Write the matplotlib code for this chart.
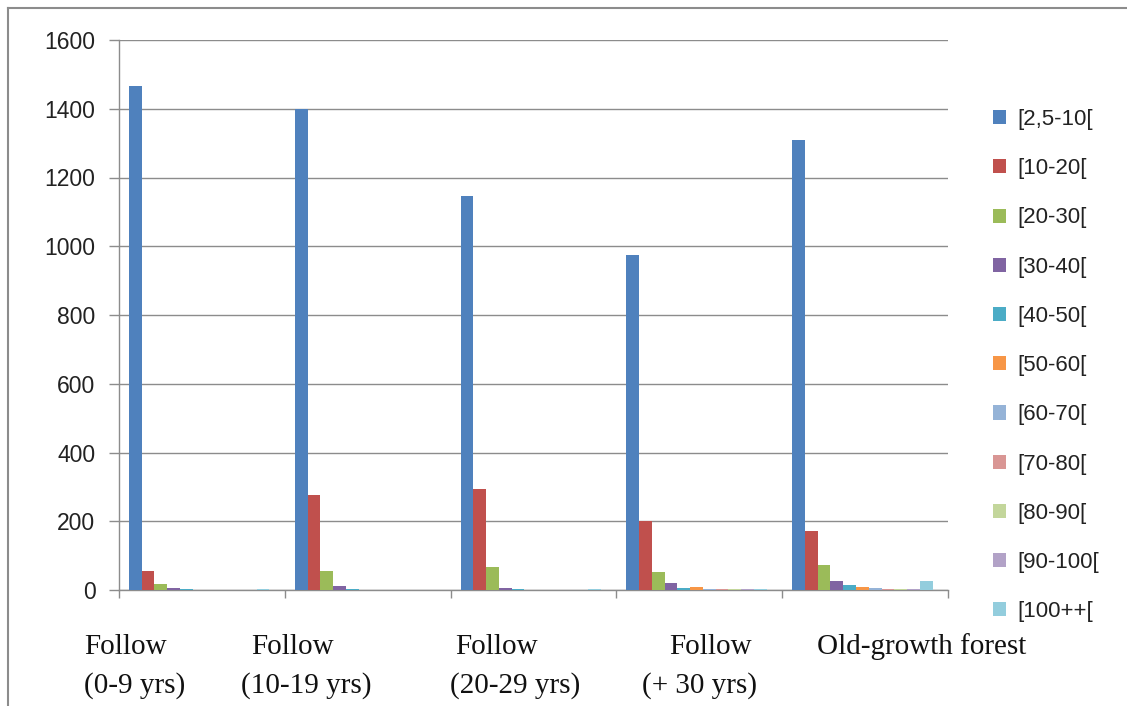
import matplotlib
matplotlib.use("Agg")
import matplotlib.pyplot as plt
from matplotlib.lines import Line2D
import numpy as np

categories = ["Follow\n(0-9 yrs)", "Follow\n(10-19 yrs)", "Follow\n(20-29 yrs)",
              "Follow\n(+ 30 yrs)", "Old-growth forest"]
series_names = ["[2,5-10[", "[10-20[", "[20-30[", "[30-40[", "[40-50[", "[50-60[",
                "[60-70[", "[70-80[", "[80-90[", "[90-100[", "[100++["]
v_2_10 = [1465, 1400, 1145, 975, 1308]
v_10_20 = [55, 276, 293, 202, 172]
v_20_30 = [17, 55, 67, 52, 73]
v_30_40 = [7, 12, 7, 20, 27]
v_40_50 = [2, 4, 3, 6, 16]
v_50_60 = [1, 1, 1, 8, 8]
v_60_70 = [0, 0, 0, 2, 5]
v_70_80 = [0, 0, 0, 2, 3]
v_80_90 = [0, 0, 0, 3, 2]
v_90_100 = [0, 0, 0, 2, 2]
v_100 = [3, 0, 3, 3, 25]
series_values = [v_2_10, v_10_20, v_20_30, v_30_40, v_40_50, v_50_60,
                 v_60_70, v_70_80, v_80_90, v_90_100, v_100]
yticks = [0, 200, 400, 600, 800, 1000, 1200, 1400, 1600]

colors = ["#4F81BD", "#C0504D", "#9BBB59", "#8064A2", "#4BACC6", "#F79646",
          "#95B3D7", "#D99694", "#C3D69B", "#B2A2C7", "#93CDDD"]

W, H = 1127, 706
fig = plt.figure(figsize=(W / 100, H / 100), dpi=100)
ax = fig.add_axes([119 / W, 1 - 590 / H, (948 - 119) / W, (590 - 40) / H])

n = len(series_names)
bw = 0.077
x = np.arange(len(categories))
start = -0.5 + 0.06
for i, (name, vals) in enumerate(zip(series_names, series_values)):
    ax.bar(x + start + (i + 0.5) * bw, vals, width=bw, color=colors[i],
           label=name, zorder=3, linewidth=0)

gcol = "#8C8C8C"
ax.set_xlim(-0.5, len(categories) - 0.5)
ax.set_ylim(0, 1600)
ax.set_yticks(yticks)
ax.set_yticklabels([str(t) for t in yticks], fontsize=16.5, color="#222222",
                   family="Liberation Sans")
ax.yaxis.grid(True, color=gcol, linewidth=1.0, zorder=0)
ax.set_xticks(np.arange(-0.5, len(categories), 1.0))
ax.set_xticklabels([])
ax.tick_params(axis="x", direction="out", length=6, color=gcol, width=1)
ax.tick_params(axis="y", direction="out", length=7, color=gcol, width=1, pad=10)
for s in ["top", "right"]:
    ax.spines[s].set_visible(False)
for s in ["left", "bottom"]:
    ax.spines[s].set_color(gcol)
    ax.spines[s].set_linewidth(1.0)

# category labels (serif, placed below the axis)
lab_pos = [(84, 84, "left"), (292, 306, "center"), (496, 515, "center"),
           (710, 700, "center"), (817, 817, "left")]
for cat, (x1, x2, ha) in zip(categories, lab_pos):
    lines = cat.split("\n")
    fig.text(x1 / W, 1 - 647 / H, lines[0], ha=ha, va="center",
             fontsize=21, family="Liberation Serif", color="#111111")
    if len(lines) > 1:
        fig.text(x2 / W, 1 - 686 / H, lines[1], ha=ha, va="center",
                 fontsize=21, family="Liberation Serif", color="#111111")

leg = ax.legend(loc="upper left", bbox_to_anchor=(993 / W, 1 - 109 / H),
                bbox_transform=fig.transFigure, frameon=False, fontsize=16,
                handlelength=0.6, handleheight=0.6, handletextpad=0.5,
                labelspacing=1.27, borderaxespad=0, borderpad=0)
for t in leg.get_texts():
    t.set_family("Liberation Sans")
    t.set_color("#222222")

# outer chart border (top and left visible)
fig.add_artist(Line2D([8 / W, 1], [1 - 8 / H, 1 - 8 / H], transform=fig.transFigure,
                      color="#8C8C8C", linewidth=1.5))
fig.add_artist(Line2D([8 / W, 8 / W], [0, 1 - 8 / H], transform=fig.transFigure,
                      color="#8C8C8C", linewidth=1.5))

fig.savefig("out.png", dpi=100)
